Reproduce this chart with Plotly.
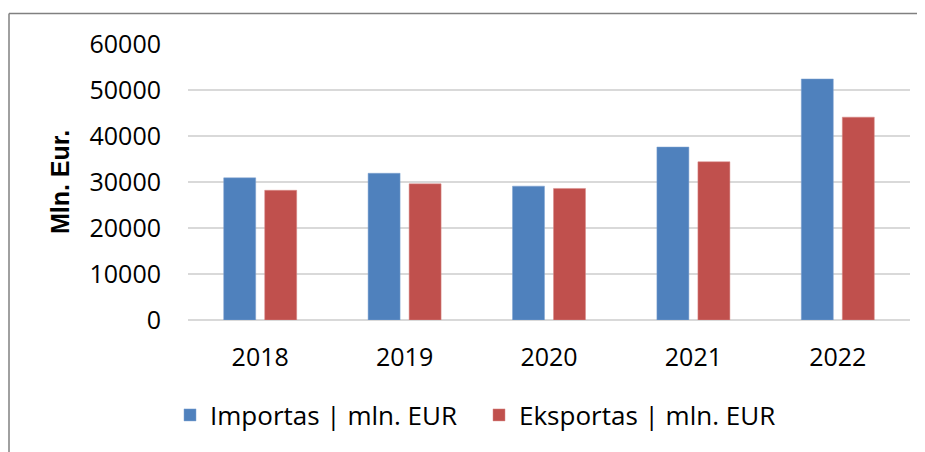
import plotly.graph_objects as go

years = ["2018", "2019", "2020", "2021", "2022"]
importas = [30900, 31900, 29100, 37600, 52400]
eksportas = [28200, 29600, 28600, 34400, 44100]
y_ticks = [0, 10000, 20000, 30000, 40000, 50000, 60000]

# page body has an 8px margin; work in figure coordinates
OFF = 8
W, H = 925 - OFF, 452 - OFF
L, R, T, B = 188 - OFF, 925 - 910, 44 - OFF, 452 - 320
pw, ph = W - L - R, H - T - B

def px_x(x):
    return (x - OFF - L) / pw

def px_y(y):
    return (H - B - (y - OFF)) / ph

fig = go.Figure()
fig.add_trace(go.Bar(x=years, y=importas, name="Importas | mln. EUR",
                     marker=dict(color="#4F81BD", line=dict(color="#7fa3d1", width=0.5))))
fig.add_trace(go.Bar(x=years, y=eksportas, name="Eksportas | mln. EUR",
                     marker=dict(color="#C0504D", line=dict(color="#d88a88", width=0.5))))

font_main = "'Open Sans', Lato, sans-serif"
border = dict(color="#808080", width=1.5)

fig.update_layout(
    width=W, height=H,
    margin=dict(l=L, r=R, t=T, b=B, pad=0),
    paper_bgcolor="white", plot_bgcolor="white",
    barmode="group", bargap=0.432, bargroupgap=0.22,
    font=dict(family=font_main, size=25, color="#000000"),
    showlegend=True,
    legend=dict(orientation="h", x=px_x(170), xanchor="left", y=px_y(415), yanchor="middle",
                font=dict(family=font_main, size=26, color="#000000"),
                entrywidth=264, entrywidthmode="pixels",
                itemwidth=30, traceorder="normal", bgcolor="rgba(0,0,0,0)"),
    xaxis=dict(showgrid=False, showline=False, ticks="", ticklabelstandoff=20,
               tickfont=dict(family=font_main, size=25, color="#000000")),
    yaxis=dict(range=[0, 60000], tickvals=y_ticks, ticktext=[str(v) for v in y_ticks],
               showgrid=True, gridcolor="#d9d9d9", gridwidth=1.5,
               zeroline=True, zerolinecolor="#d9d9d9", zerolinewidth=1.5,
               showline=False, ticks="", ticklabelstandoff=26,
               tickfont=dict(family=font_main, size=25, color="#000000"),
               title=dict(text="<b>Mln. Eur.</b>", standoff=12,
                          font=dict(family="'Liberation Sans', Arial, sans-serif", size=25, color="#000000"))),
    shapes=[
        dict(type="line", xref="paper", yref="paper",
             x0=px_x(9), x1=px_x(925), y0=px_y(13.5), y1=px_y(13.5), line=border, layer="below"),
        dict(type="line", xref="paper", yref="paper",
             x0=px_x(9), x1=px_x(9), y0=px_y(13.5), y1=px_y(452), line=border, layer="below"),
    ],
)

fig.write_html("out.html")
